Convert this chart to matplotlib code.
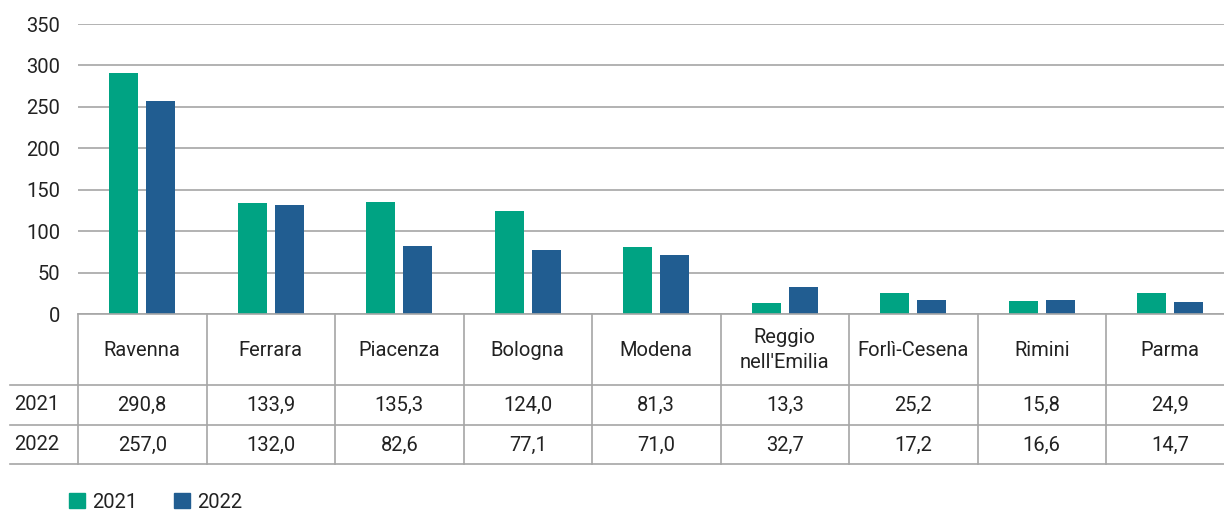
import numpy as np
import matplotlib.pyplot as plt
from matplotlib.patches import Patch

plt.rcParams['font.family'] = ['Roboto', 'DejaVu Sans']

province = ["Ravenna", "Ferrara", "Piacenza", "Bologna", "Modena",
            "Reggio\nnell'Emilia", "Forlì-Cesena", "Rimini", "Parma"]
anni = ["2021", "2022"]
valori_2021 = [290.8, 133.9, 135.3, 124.0, 81.3, 13.3, 25.2, 15.8, 24.9]
valori_2022 = [257.0, 132.0, 82.6, 77.1, 71.0, 32.7, 17.2, 16.6, 14.7]
y_ticks = [0, 50, 100, 150, 200, 250, 300, 350]

colori = ["#00A383", "#215D91"]
grigio = "#A6A6A6"
testo = "#222222"
fs = 14.5

W, H = 1224, 512
col_px = 128.5
x0 = 78

fig = plt.figure(figsize=(W / 100, H / 100), dpi=100)

# grafico a barre
ax = fig.add_axes([x0 / W, (H - 314) / H, 9 * col_px / W, 290 / H])
x = np.arange(len(province))
larg = 0.226
off = 0.145
ax.bar(x - off, valori_2021, width=larg, color=colori[0], zorder=3)
ax.bar(x + off, valori_2022, width=larg, color=colori[1], zorder=3)
ax.set_xlim(-0.5, len(province) - 0.5)
ax.set_ylim(0, 350)
ax.set_yticks(y_ticks)
ax.set_yticklabels([str(v) for v in y_ticks], fontsize=fs, color=testo)
ax.tick_params(axis='y', length=0, pad=13)
ax.set_xticks([])
ax.grid(axis='y', color=grigio, lw=1.2, zorder=0)
for s in ax.spines.values():
    s.set_visible(False)

# tabella dati
tab = fig.add_axes([x0 / W, (H - 464) / H, 9 * col_px / W, 150 / H], sharex=ax)
tab.set_ylim(150, 0)
tab.axis('off')
x_sin = -0.5 - 68 / col_px
for xb in np.arange(-0.5, len(province) + 0.5, 1.0):
    tab.plot([xb, xb], [0, 150], color=grigio, lw=1.2, clip_on=False)
tab.plot([-0.5, len(province) - 0.5], [0, 0], color=grigio, lw=1.2, clip_on=False)
for yl in [71, 111, 150]:
    tab.plot([x_sin, len(province) - 0.5], [yl, yl], color=grigio, lw=1.2, clip_on=False)

for i, nome in enumerate(province):
    tab.text(i, 36, nome, ha='center', va='center', fontsize=fs, color=testo,
             linespacing=1.4)
    tab.text(i, 91, f"{valori_2021[i]:.1f}".replace('.', ','), ha='center',
             va='center', fontsize=fs, color=testo)
    tab.text(i, 131, f"{valori_2022[i]:.1f}".replace('.', ','), ha='center',
             va='center', fontsize=fs, color=testo)
tab.text(x_sin + 4 / col_px, 91, anni[0], ha='left', va='center', fontsize=fs, color=testo)
tab.text(x_sin + 4 / col_px, 131, anni[1], ha='left', va='center', fontsize=fs, color=testo)

handles = [Patch(color=colori[0], label=anni[0]), Patch(color=colori[1], label=anni[1])]
fig.legend(handles=handles, loc='center left', bbox_to_anchor=(69 / W, 1 - 502 / H),
           ncol=2, frameon=False, fontsize=fs, handlelength=0.8, handleheight=0.8,
           handletextpad=0.35, columnspacing=1.8, labelcolor=testo,
           borderpad=0, borderaxespad=0)

fig.savefig("out.png", dpi=100)
